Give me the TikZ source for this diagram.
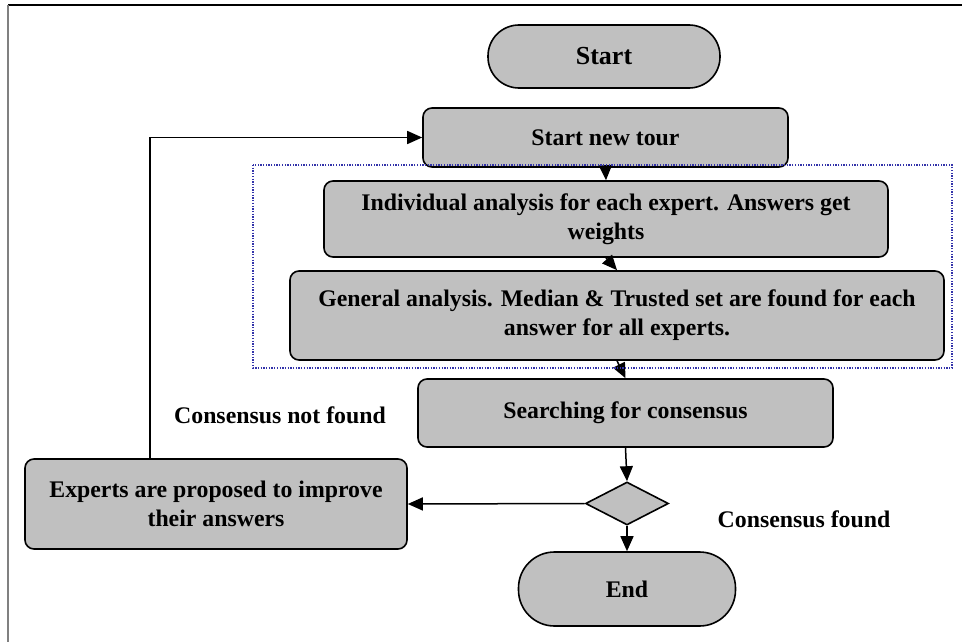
\documentclass[tikz,border=0pt]{standalone}
\usepackage{fontspec}
\setmainfont{Liberation Serif}
\usetikzlibrary{shapes.geometric,arrows.meta}
\definecolor{boxgray}{RGB}{192,192,192}
\definecolor{groupblue}{RGB}{51,51,170}
\definecolor{framegray}{RGB}{128,128,128}
\begin{document}
\begin{tikzpicture}[x=1pt,y=-1pt,
  txt/.style={font=\fontsize{23.8}{29}\selectfont\bfseries},
  box/.style={txt, draw=black, fill=boxgray, line width=1.6pt, rounded corners=9pt,
    align=center, inner sep=0pt},
  terminal/.style={box, rounded corners=#1},
  decision/.style={diamond, draw=black, fill=boxgray, line width=1.6pt, inner sep=0pt,
    minimum width=83pt, minimum height=43pt},
  arr/.style={draw=black, line width=1.5pt, -{Triangle[length=15pt,width=13pt]}},
  lbl/.style={txt, align=center, inner sep=0pt}
]
\useasboundingbox (0,0) rectangle (962,642);

% page frame (top and left edges)
\draw[black, line width=1.2pt] (8,5) -- (962,5);
\draw[framegray, line width=2pt] (8,5) -- (8,642);

% process nodes
\node[terminal=31pt, minimum width=232pt, minimum height=63pt,
      font=\fontsize{26}{30}\selectfont\bfseries] (start) at (604,56.5) {Start};
\node[box, minimum width=365pt, minimum height=59pt] (tour) at (605.5,137.5) {Start new tour};
\node[box, minimum width=564pt, minimum height=76pt] (indiv) at (606,219)
  {Individual analysis for each expert. Answers get\\weights};
\node[box, minimum width=654pt, minimum height=89pt] (gen) at (617,315.5)
  {General analysis. Median \& Trusted set are found for each\\answer for all experts.};
\node[box, minimum width=415pt, minimum height=68pt] (search) at (625.5,413)
  {Searching for consensus};
\node[decision] (dec) at (627,503.5) {};
\node[terminal=36pt, minimum width=217pt, minimum height=74pt] (end) at (627,589) {End};
\node[box, minimum width=382pt, minimum height=90pt] (experts) at (216,504)
  {Experts are proposed to improve\\their answers};

% branch labels
\node[lbl] (notfound) at (280,415) {Consensus not found};
\node[lbl] (found) at (804,519) {Consensus found};

% connectors
\draw[arr] (tour.south) -- (indiv.north);
\draw[arr] (indiv.south) -- (gen.north);
\draw[arr] (gen.south) -- (search.north);
\draw[arr] (search.south) -- (dec.north);
\draw[arr] (dec.south) -- (end.north);
\draw[arr] (dec.west) -- (experts.east);
\draw[arr] ([xshift=126pt]experts.north west) |- (tour.west);

% analysis group
\draw[groupblue, line width=1.1pt, dash pattern=on 1.3pt off 1.4pt]
  (253,165) rectangle (952,368);
\end{tikzpicture}
\end{document}
